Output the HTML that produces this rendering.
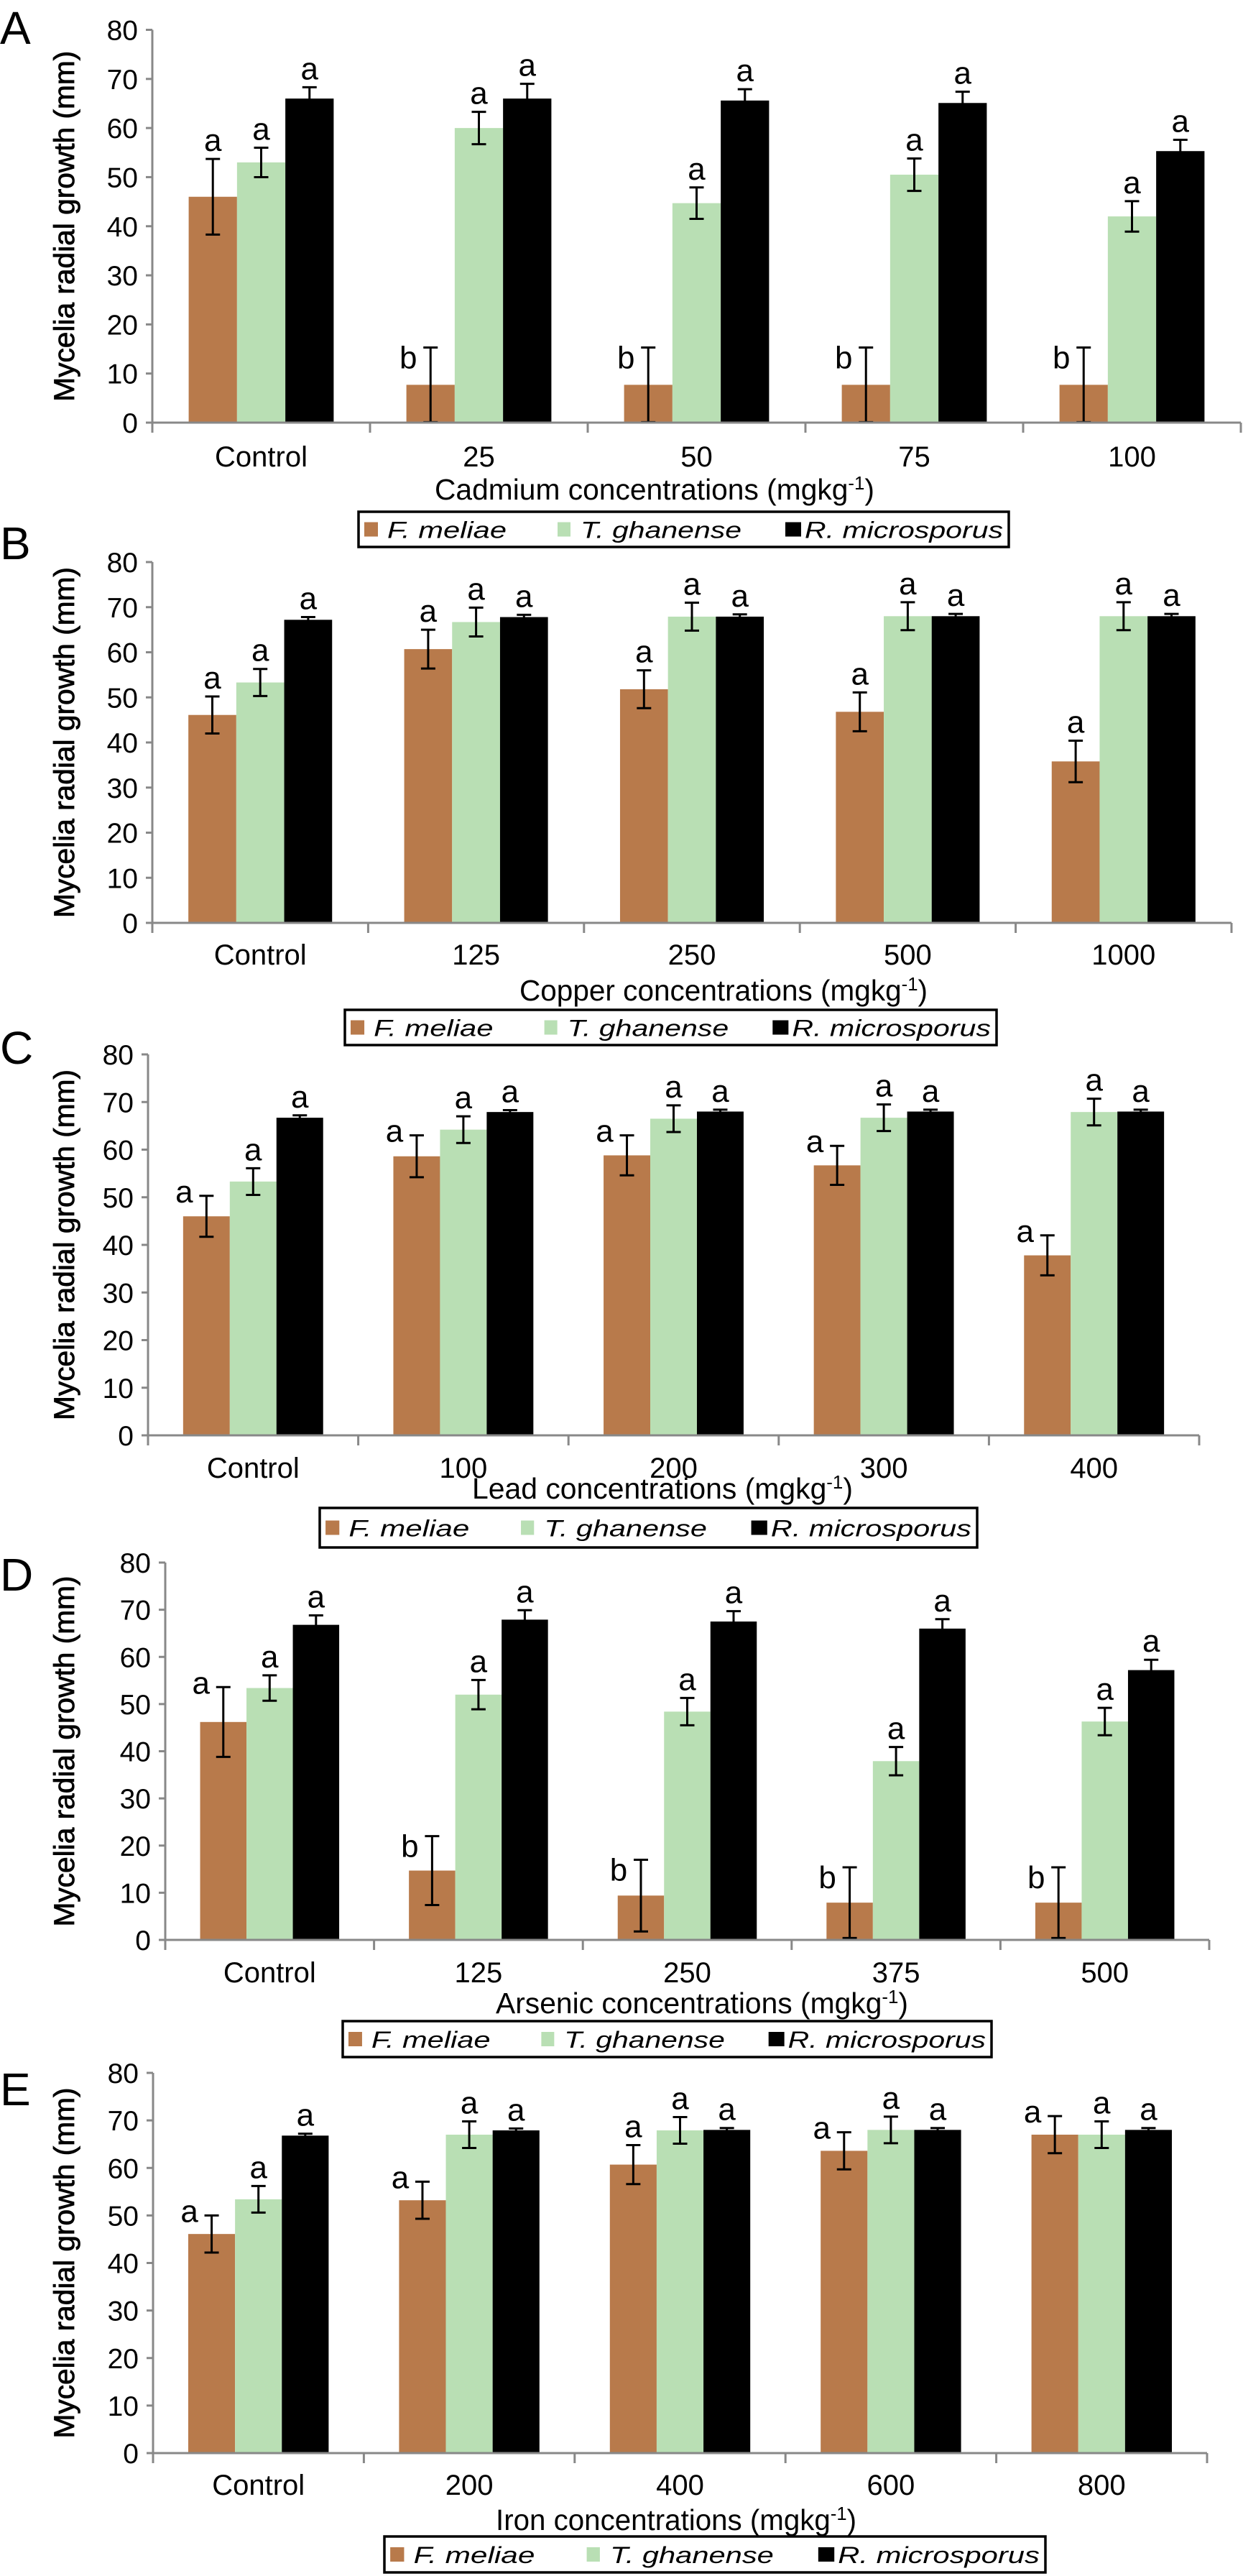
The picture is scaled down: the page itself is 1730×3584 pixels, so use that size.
<!DOCTYPE html>
<html><head><meta charset="utf-8">
<style>
html,body{margin:0;padding:0;background:#fff;}
svg{display:block;}
text{font-family:"Liberation Sans",Arial,sans-serif;}
</style></head>
<body>
<svg id="fig" xmlns="http://www.w3.org/2000/svg" width="1730" height="3584" viewBox="0 0 1730 3584"></svg>
<script>
// ---------- Data ----------
const seriesNames = ["F. meliae", "T. ghanense", "R. microsporus"];
const yTicks = [0,10,20,30,40,50,60,70,80];

const catsA = ["Control","25","50","75","100"];
const fmA = [46,7.7,7.7,7.7,7.7];   const fmErrA = [7.7,7.6,7.6,7.6,7.6];
const tgA = [53,60,44.7,50.5,42];   const tgErrA = [3,3.3,3.2,3.3,3.1];
const rmA = [66,66,65.6,65.1,55.3]; const rmErrA = [2.3,3,2.3,2.3,2.3];
const fmLblA = ["a","b","b","b","b"]; const fmPosA = ["T","L","L","L","L"];

const catsB = ["Control","125","250","500","1000"];
const fmB = [46.1,60.7,51.8,46.8,35.8]; const fmErrB = [4.1,4.3,4.2,4.3,4.6];
const tgB = [53.3,66.7,67.9,68,68];     const tgErrB = [3,3.2,3.1,3.1,3.1];
const rmB = [67.2,67.8,67.9,68,68];     const rmErrB = [0.6,0.5,0.5,0.5,0.5];
const fmLblB = ["a","a","a","a","a"]; const fmPosB = ["T","T","T","T","T"];

const catsC = ["Control","100","200","300","400"];
const fmC = [46,58.6,58.8,56.7,37.8]; const fmErrC = [4.3,4.4,4.2,4.1,4.2];
const tgC = [53.3,64.2,66.5,66.7,67.9]; const tgErrC = [2.8,2.8,2.8,2.8,2.8];
const rmC = [66.7,67.9,68,68,68];     const rmErrC = [0.5,0.4,0.4,0.4,0.4];
const fmLblC = ["a","a","a","a","a"]; const fmPosC = ["L","L","L","L","L"];

const catsD = ["Control","125","250","375","500"];
const fmD = [46.2,14.7,9.4,7.9,7.9]; const fmErrD = [7.4,7.3,7.6,7.5,7.5];
const tgD = [53.4,52,48.4,37.9,46.3]; const tgErrD = [2.7,3.1,2.9,3,2.9];
const rmD = [66.8,67.9,67.5,66,57.2]; const rmErrD = [2,2,2.2,2,2.2];
const fmLblD = ["a","b","b","b","b"]; const fmPosD = ["L","L","L","L","L"];

const catsE = ["Control","200","400","600","800"];
const fmE = [46.1,53.2,60.7,63.6,67]; const fmErrE = [3.9,3.9,4.1,3.9,3.9];
const tgE = [53.4,67,67.9,68,67];     const tgErrE = [2.8,2.8,2.8,2.8,2.8];
const rmE = [66.8,67.9,68,68,68];     const rmErrE = [0.4,0.4,0.4,0.4,0.4];
const fmLblE = ["a","a","a","a","a"]; const fmPosE = ["L","L","T","L","L"];

const titles = ["Cadmium","Copper","Lead","Arsenic","Iron"];

// ---------- Layout ----------
const panels = [
 {id:"A", cats:catsA, vals:[fmA,tgA,rmA], errs:[fmErrA,tgErrA,rmErrA], fmLbl:fmLblA, fmPos:fmPosA,
  x0:212,x1:1727,y0:588,yTop:41.5,tickY:649,titleY:695,titleX:911,titleW:612,leg:[499,712,905,49],letterY:61},
 {id:"B", cats:catsB, vals:[fmB,tgB,rmB], errs:[fmErrB,tgErrB,rmErrB], fmLbl:fmLblB, fmPos:fmPosB,
  x0:212,x1:1714,y0:1284,yTop:782,tickY:1342,titleY:1392,titleX:1007,titleW:568,leg:[480,1405,907,49],letterY:778},
 {id:"C", cats:catsC, vals:[fmC,tgC,rmC], errs:[fmErrC,tgErrC,rmErrC], fmLbl:fmLblC, fmPos:fmPosC,
  x0:206,x1:1669,y0:1997,yTop:1467,tickY:2056,titleY:2085,titleX:922,titleW:530,leg:[445,2098,915,55],letterY:1480},
 {id:"D", cats:catsD, vals:[fmD,tgD,rmD], errs:[fmErrD,tgErrD,rmErrD], fmLbl:fmLblD, fmPos:fmPosD,
  x0:230,x1:1683,y0:2699,yTop:2174,tickY:2758,titleY:2801,titleX:977,titleW:574,leg:[477,2812,903,50],letterY:2213},
 {id:"E", cats:catsE, vals:[fmE,tgE,rmE], errs:[fmErrE,tgErrE,rmErrE], fmLbl:fmLblE, fmPos:fmPosE,
  x0:213,x1:1680,y0:3413,yTop:2884,tickY:3471,titleY:3520,titleX:941,titleW:502,leg:[535,3529,920,50],letterY:2929}
];
const colors = ["#b87a4b","#b9dfb4","#000000"];
const NS = "http://www.w3.org/2000/svg";
const svg = document.getElementById("fig");
function mk(tag, attrs, parent){
  const e = document.createElementNS(NS, tag);
  for (const k in attrs) e.setAttribute(k, attrs[k]);
  (parent||svg).appendChild(e);
  return e;
}

panels.forEach(p => {
  const g = mk("g", {});
  
  
  const yScale = v => p.y0 - (v/80)*(p.y0 - p.yTop);
  const cw = (p.x1 - p.x0)/p.cats.length;
  const bw = cw*0.222;
  const xCat = i => p.x0 + cw*i + cw/2;
  const xBar = (i,s) => xCat(i) - 1.5*bw + s*bw;

  // panel letter
  const L = mk("text", {x:0, y:p.letterY, "font-size":64}, g);
  L.textContent = p.id;
  
  

  // y axis
  const ya = mk("line", {x1:p.x0, y1:p.yTop, x2:p.x0, y2:p.y0, stroke:"#888", "stroke-width":3}, g);
  
  
  yTicks.forEach(t => {
    const y = yScale(t);
    mk("line", {x1:p.x0-9, y1:y, x2:p.x0, y2:y, stroke:"#888", "stroke-width":3}, g);
    const tl = mk("text", {x:p.x0-20, y:y+14, "font-size":39, "text-anchor":"end"}, g);
    tl.textContent = t;
    
    
  });
  // y title
  const ym = (p.y0 + p.yTop)/2;
  const yt = mk("text", {x:0, y:0, "font-size":40, "text-anchor":"middle", stroke:"#000", "stroke-width":0.8,
    transform:`translate(103,${ym}) rotate(-90)`, textLength:488, lengthAdjust:"spacingAndGlyphs"}, g);
  yt.textContent = "Mycelia radial growth (mm)";
  
  

  // bars
  p.cats.forEach((c, i) => {
    for (let s = 0; s < 3; s++) {
      const v = p.vals[s][i], e = p.errs[s][i];
      const x = xBar(i, s);
      const r = mk("rect", {x:x, y:yScale(v), width:bw, height:p.y0 - yScale(v), fill:colors[s]}, g);
      
      
      const cx = x + bw/2, yt1 = yScale(v+e), yb1 = yScale(Math.max(0, v-e));
      const ec = s===2 ? "#000" : "#000";
      mk("line", {x1:cx, y1:yt1, x2:cx, y2:yb1, stroke:ec, "stroke-width":3}, g);
      mk("line", {x1:cx-10, y1:yt1, x2:cx+10, y2:yt1, stroke:ec, "stroke-width":3}, g);
      mk("line", {x1:cx-10, y1:yb1, x2:cx+10, y2:yb1, stroke:ec, "stroke-width":3}, g);
      // significance letter
      let lbl = "a", pos = "T";
      if (s === 0) { lbl = p.fmLbl[i]; pos = p.fmPos[i]; }
      let lx, ly;
      if (pos === "T") { lx = cx; ly = yt1 - 11; }
      else { lx = cx - 31; ly = yt1 + (lbl === "b" ? 29 : 9); }
      const lt = mk("text", {x:lx, y:ly, "font-size":44, "text-anchor":"middle"}, g);
      lt.textContent = lbl;
      
      
    }
    const ct = mk("text", {x:xCat(i), y:p.tickY, "font-size":40, "text-anchor":"middle"}, g);
    ct.textContent = c;
    
    
  });
  // x axis
  const xa = mk("line", {x1:p.x0-9, y1:p.y0, x2:p.x1, y2:p.y0, stroke:"#888", "stroke-width":3}, g);
  
  
  for (let i = 0; i <= p.cats.length; i++) {
    const x = p.x0 + cw*i;
    mk("line", {x1:x, y1:p.y0, x2:x, y2:p.y0+14, stroke:"#888", "stroke-width":3}, g);
  }
  // x title
  const xt = mk("text", {x:p.titleX - p.titleW/2, y:p.titleY, "font-size":41, textLength:p.titleW, lengthAdjust:"spacingAndGlyphs"}, g);
  xt.innerHTML = titles[panels.indexOf(p)] + ' concentrations (mgkg<tspan font-size="26" dy="-14">-1</tspan><tspan dy="14">)</tspan>';
  
  

  // legend
  const [lx, ly, lw, lh] = p.leg;
  const lg = mk("g", {}, g);
  
  
  mk("rect", {x:lx, y:ly, width:lw, height:lh, fill:"#fff", stroke:"#000", "stroke-width":3.5}, lg);
  const k = lw/905;
  const sq = [[8,19],[277,18],[594,22]];
  const tx = [[40,166],[309,224],[621,276]];
  for (let s = 0; s < 3; s++) {
    mk("rect", {x:lx+sq[s][0]*k, y:ly+lh/2-10, width:sq[s][1]*k, height:20, fill:colors[s]}, lg);
    const t = mk("text", {x:lx+tx[s][0]*k, y:ly+lh/2+12, "font-size":32, "font-style":"italic",
      textLength:tx[s][1]*k, lengthAdjust:"spacingAndGlyphs"}, lg);
    t.textContent = seriesNames[s];
    
    
  }
});
</script>
</body></html>
